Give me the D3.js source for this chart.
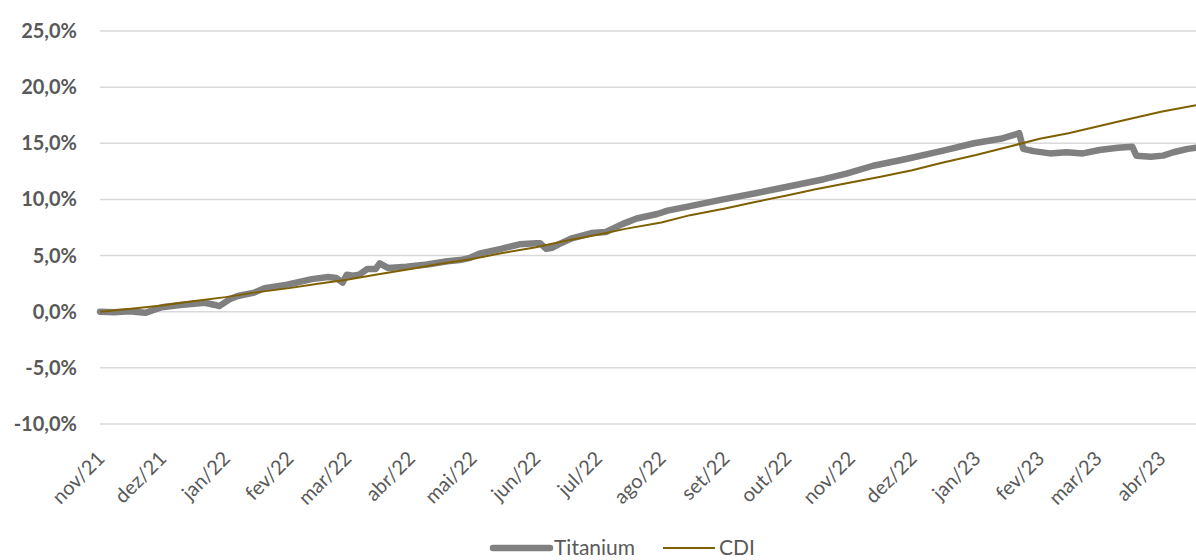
<!DOCTYPE html>
<html>
<head>
<meta charset="utf-8">
<script src="https://cdn.jsdelivr.net/npm/d3@7"></script>
<style>
  body { margin: 0; background: #fff; }
  svg { display: block; font-family: Lato, "Open Sans", sans-serif; }
</style>
</head>
<body>
<svg id="chart"></svg>
<script>
const width = 1196;
const height = 560;

// month ticks on the x axis
const tick_labels = ["nov/21", "dez/21", "jan/22", "fev/22", "mar/22", "abr/22", "mai/22",
    "jun/22", "jul/22", "ago/22", "set/22", "out/22", "nov/22", "dez/22", "jan/23",
    "fev/23", "mar/23", "abr/23"];
const y_ticks = [-10, -5, 0, 5, 10, 15, 20, 25];

// Titanium, cumulative return (%)
const titanium_dates = ["2021-11-01", "2021-11-08", "2021-11-15", "2021-11-23", "2021-12-01",
    "2021-12-10", "2021-12-22", "2021-12-27", "2021-12-29", "2022-01-03", "2022-01-07",
    "2022-01-15", "2022-01-20", "2022-01-31", "2022-02-12", "2022-02-20", "2022-02-24",
    "2022-02-27", "2022-03-01", "2022-03-04", "2022-03-07", "2022-03-11", "2022-03-15",
    "2022-03-17", "2022-03-21", "2022-03-30", "2022-04-09", "2022-04-19", "2022-04-25",
    "2022-04-30", "2022-05-05", "2022-05-15", "2022-05-24", "2022-06-01", "2022-06-03",
    "2022-06-06", "2022-06-09", "2022-06-12", "2022-06-18", "2022-06-28", "2022-07-05",
    "2022-07-13", "2022-07-20", "2022-07-30", "2022-08-04", "2022-08-15", "2022-08-31",
    "2022-09-17", "2022-10-03", "2022-10-19", "2022-10-30", "2022-11-12", "2022-11-28",
    "2022-12-15", "2022-12-31", "2023-01-13", "2023-01-22", "2023-01-24", "2023-01-29",
    "2023-02-06", "2023-02-14", "2023-02-22", "2023-03-02", "2023-03-11", "2023-03-18",
    "2023-03-20", "2023-03-27", "2023-04-02", "2023-04-07", "2023-04-14", "2023-04-18"];
const titanium_values = [0.0, -0.05, 0.05, -0.1, 0.4,
    0.6, 0.8, 0.6, 0.5, 1.1, 1.4,
    1.7, 2.1, 2.4, 2.9, 3.1, 3.0,
    2.6, 3.3, 3.2, 3.3, 3.8, 3.8,
    4.3, 3.9, 4.0, 4.2, 4.5, 4.6,
    4.8, 5.2, 5.6, 6.0, 6.1, 6.1,
    5.6, 5.7, 6.0, 6.5, 7.0, 7.1,
    7.8, 8.3, 8.7, 9.0, 9.4, 10.0,
    10.6, 11.2, 11.8, 12.3, 13.0, 13.6,
    14.3, 15.0, 15.4, 15.9, 14.5, 14.3,
    14.1, 14.2, 14.1, 14.4, 14.6, 14.7,
    13.9, 13.8, 13.9, 14.2, 14.5, 14.6];

// CDI, cumulative (%)
const cdi_dates = ["2021-11-01", "2021-11-15", "2021-12-01", "2021-12-15", "2022-01-01",
    "2022-01-15", "2022-02-01", "2022-02-15", "2022-03-01", "2022-03-15", "2022-04-01",
    "2022-04-15", "2022-05-01", "2022-05-15", "2022-06-01", "2022-06-15", "2022-07-01",
    "2022-07-15", "2022-08-01", "2022-08-15", "2022-09-01", "2022-09-15", "2022-10-01",
    "2022-10-15", "2022-11-01", "2022-11-15", "2022-12-01", "2022-12-15", "2023-01-01",
    "2023-01-15", "2023-02-01", "2023-02-15", "2023-03-01", "2023-03-15", "2023-04-01",
    "2023-04-18"];
const cdi_values = [0.0, 0.25, 0.55, 0.9, 1.3,
    1.7, 2.1, 2.5, 2.85, 3.3, 3.8,
    4.25, 4.7, 5.2, 5.75, 6.3, 6.85,
    7.4, 7.95, 8.6, 9.2, 9.75, 10.35,
    10.9, 11.5, 12.0, 12.6, 13.25, 13.95,
    14.6, 15.4, 15.9, 16.5, 17.1, 17.8,
    18.4];

const parse = d3.timeParse("%Y-%m-%d");
const titanium = titanium_dates.map((d, i) => ({ date: parse(d), value: titanium_values[i] }));
const cdi = cdi_dates.map((d, i) => ({ date: parse(d), value: cdi_values[i] }));

const svg = d3.select("#chart")
    .attr("width", width)
    .attr("height", height);

const xscale = d3.scaleTime()
    .domain([parse("2021-11-01"), parse("2023-04-18")])
    .range([100, 1196]);

const yscale = d3.scaleLinear()
    .domain([-10, 25])
    .range([424, 31]);

const br = d3.formatLocale({ decimal: ",", thousands: ".", grouping: [3], currency: ["R$", ""], minus: "-" });
const pct = v => br.format(".1f")(v) + "%";

// gridlines
svg.append("g")
    .selectAll("line")
    .data(y_ticks)
    .join("line")
    .attr("x1", 100)
    .attr("x2", width)
    .attr("y1", d => yscale(d))
    .attr("y2", d => yscale(d))
    .attr("stroke", "#d9d9d9")
    .attr("stroke-width", 1.5);

// y axis labels
svg.append("g")
    .selectAll("text")
    .data(y_ticks)
    .join("text")
    .attr("x", 77)
    .attr("y", d => yscale(d))
    .attr("dy", "0.35em")
    .attr("text-anchor", "end")
    .attr("font-size", "20px")
    .attr("font-weight", "bold")
    .attr("fill", "#595959")
    .text(d => pct(d));

// x axis labels
const tick_dates = d3.timeMonth.range(parse("2021-11-01"), parse("2023-04-02"));
svg.append("g")
    .selectAll("text")
    .data(tick_dates)
    .join("text")
    .attr("transform", d => `translate(${xscale(d) - 4},${450}) rotate(-45)`)
    .attr("text-anchor", "end")
    .attr("dy", "0.7em")
    .attr("font-size", "20px")
    .attr("fill", "#595959")
    .text((d, i) => tick_labels[i]);

const line = d3.line()
    .x(d => xscale(d.date))
    .y(d => yscale(d.value));

svg.append("path")
    .datum(titanium)
    .attr("d", line)
    .attr("fill", "none")
    .attr("stroke", "#808080")
    .attr("stroke-width", 6.5)
    .attr("stroke-linejoin", "round")
    .attr("stroke-linecap", "round");

svg.append("path")
    .datum(cdi)
    .attr("d", line)
    .attr("fill", "none")
    .attr("stroke", "#7f6000")
    .attr("stroke-width", 2);

// legend
const legend = [
    { name: "Titanium", color: "#808080", w: 6.5, x1: 493, x2: 550 },
    { name: "CDI", color: "#7f6000", w: 2, x1: 663, x2: 715 }
];
const lg = svg.append("g");
lg.selectAll("line")
    .data(legend)
    .join("line")
    .attr("x1", d => d.x1)
    .attr("x2", d => d.x2)
    .attr("y1", 548)
    .attr("y2", 548)
    .attr("stroke", d => d.color)
    .attr("stroke-width", d => d.w)
    .attr("stroke-linecap", d => d.w > 3 ? "round" : "butt");
lg.selectAll("text")
    .data(legend)
    .join("text")
    .attr("x", d => d.x2 + 4)
    .attr("y", 548)
    .attr("dy", "0.35em")
    .attr("font-size", "21px")
    .attr("fill", "#595959")
    .text(d => d.name);
</script>
</body>
</html>
